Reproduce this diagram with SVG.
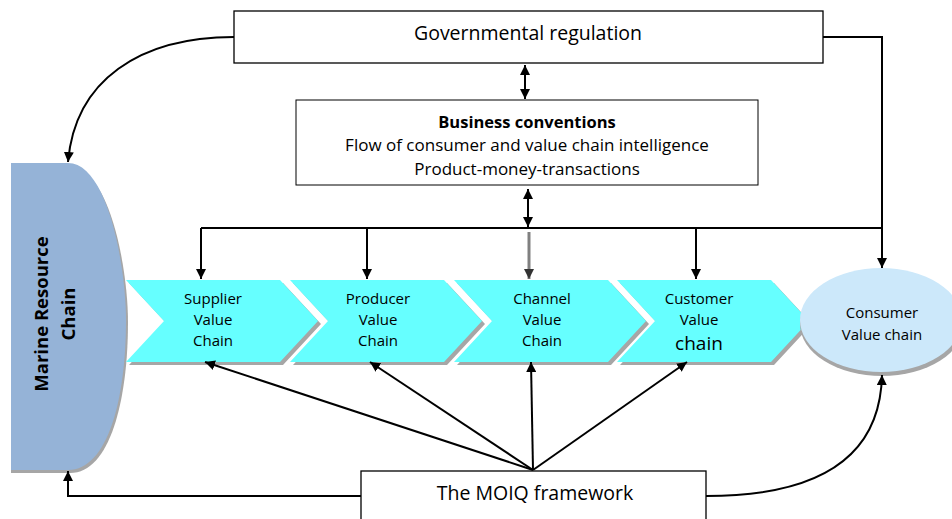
<svg xmlns="http://www.w3.org/2000/svg" width="952" height="519" viewBox="0 0 952 519">
  <defs>
    <marker id="arr" viewBox="0 0 10 10" refX="10" refY="5" markerWidth="10" markerHeight="10" markerUnits="userSpaceOnUse" orient="auto-start-reverse">
      <path d="M0,0 L10,5 L0,10 z" fill="#000"/>
    </marker>
    <marker id="arrGrey" viewBox="0 0 10 10" refX="10" refY="5" markerWidth="10" markerHeight="10" markerUnits="userSpaceOnUse" orient="auto">
      <path d="M0,0 L10,5 L0,10 z" fill="#333"/>
    </marker>
    <path id="chev" d="M0,0 L154,0 L192,41 L154,82 L0,82 L38,41 z"/>
  </defs>
  <style>
    text { font-family: "Open Sans", "Liberation Sans", sans-serif; fill: #000; text-anchor: middle; }
    .box { fill: #fff; stroke: #000; stroke-width: 1.3; }
    .chev { fill: #66FFFF; }
    .shadow { fill: #A6A6A6; }
    .link { fill: none; stroke: #000; stroke-width: 2; }
    .lbl { font-size: 15px; }
  </style>

  <rect width="952" height="519" fill="#fff"/>

  <!-- regulation box -->
  <g id="gov">
    <rect class="box" x="234" y="11" width="589" height="52"/>
    <text x="528" y="40" style="font-size:19.5px">Governmental regulation</text>
  </g>

  <!-- business conventions box -->
  <g id="business">
    <rect class="box" x="296" y="100" width="462" height="85" style="stroke-width:1"/>
    <text x="527" y="128" style="font-size:16.5px;font-weight:bold">Business conventions</text>
    <text x="527" y="151" style="font-size:17px">Flow of consumer and value chain intelligence</text>
    <text x="527" y="175" style="font-size:17px">Product-money-transactions</text>
  </g>

  <!-- marine resource chain -->
  <g id="marine">
    <path class="shadow" d="M11,166 L68,166 C110,166 128,270 128,322 C128,400 110,473 70,473 L11,473 z"/>
    <path fill="#95B3D7" d="M11,163 L68,163 C108,163 126,268 126,320 C126,398 108,470 68,470 L11,470 z"/>
    <text transform="translate(48,314) rotate(-90)" style="font-size:18.5px;font-weight:bold">Marine Resource</text>
    <text transform="translate(75,314) rotate(-90)" style="font-size:18.5px;font-weight:bold">Chain</text>
  </g>

  <!-- value chain chevrons -->
  <g id="supplier">
    <use href="#chev" class="shadow" x="129" y="283"/>
    <use href="#chev" class="chev" x="126" y="280"/>
    <text class="lbl" x="213" y="304">Supplier</text>
    <text class="lbl" x="213" y="325">Value</text>
    <text class="lbl" x="213" y="346">Chain</text>
  </g>
  <g id="producer">
    <use href="#chev" class="shadow" x="293" y="283"/>
    <use href="#chev" class="chev" x="290" y="280"/>
    <text class="lbl" x="378" y="304">Producer</text>
    <text class="lbl" x="378" y="325">Value</text>
    <text class="lbl" x="378" y="346">Chain</text>
  </g>
  <g id="channel">
    <use href="#chev" class="shadow" x="457" y="283"/>
    <use href="#chev" class="chev" x="454" y="280"/>
    <text class="lbl" x="542" y="304">Channel</text>
    <text class="lbl" x="542" y="325">Value</text>
    <text class="lbl" x="542" y="346">Chain</text>
  </g>
  <g id="customer">
    <use href="#chev" class="shadow" x="620" y="283"/>
    <use href="#chev" class="chev" x="617" y="280"/>
    <text class="lbl" x="699" y="304">Customer</text>
    <text class="lbl" x="699" y="325">Value</text>
    <text x="699" y="350" style="font-size:19px">chain</text>
  </g>

  <!-- consumer value chain -->
  <g id="consumer">
    <ellipse cx="882" cy="324" rx="82" ry="52" fill="#A6A6A6"/>
    <ellipse cx="881" cy="320" rx="81" ry="52" fill="#CCE8FA"/>
    <text x="882" y="318" style="font-size:15px">Consumer</text>
    <text x="882" y="340" style="font-size:15px">Value chain</text>
  </g>

  <!-- MOIQ framework box -->
  <g id="moiq">
    <rect class="box" x="361" y="471" width="345" height="60"/>
    <text x="535" y="500" style="font-size:19.5px">The MOIQ framework</text>
  </g>

  <!-- connectors -->
  <g id="connectors">
    <path class="link" d="M234,37 C140,37 75,80 68,162" marker-end="url(#arr)"/>
    <path class="link" d="M525,65 L525,99" marker-start="url(#arr)" marker-end="url(#arr)"/>
    <path class="link" d="M528,189 L528,227" marker-start="url(#arr)" marker-end="url(#arr)"/>
    <path class="link" d="M201,228 L882,228"/>
    <path class="link" d="M823,37 L882,37 L882,268" marker-end="url(#arr)"/>
    <path class="link" d="M201,228 L201,279" marker-end="url(#arr)"/>
    <path class="link" d="M367,228 L367,279" marker-end="url(#arr)"/>
    <path class="link" d="M696,228 L696,279" marker-end="url(#arr)"/>
    <path fill="none" stroke="#808080" stroke-width="3" d="M529,232 L529,279" marker-end="url(#arrGrey)"/>
    <path class="link" d="M533,470 L205,362" marker-end="url(#arr)"/>
    <path class="link" d="M533,470 L370,362" marker-end="url(#arr)"/>
    <path class="link" d="M533,470 L531,362" marker-end="url(#arr)"/>
    <path class="link" d="M533,470 L687,362" marker-end="url(#arr)"/>
    <path class="link" d="M361,496 L68,496 L68,471" marker-end="url(#arr)"/>
    <path class="link" d="M706,496 C800,496 880,470 882,375" marker-end="url(#arr)"/>
  </g>
</svg>
